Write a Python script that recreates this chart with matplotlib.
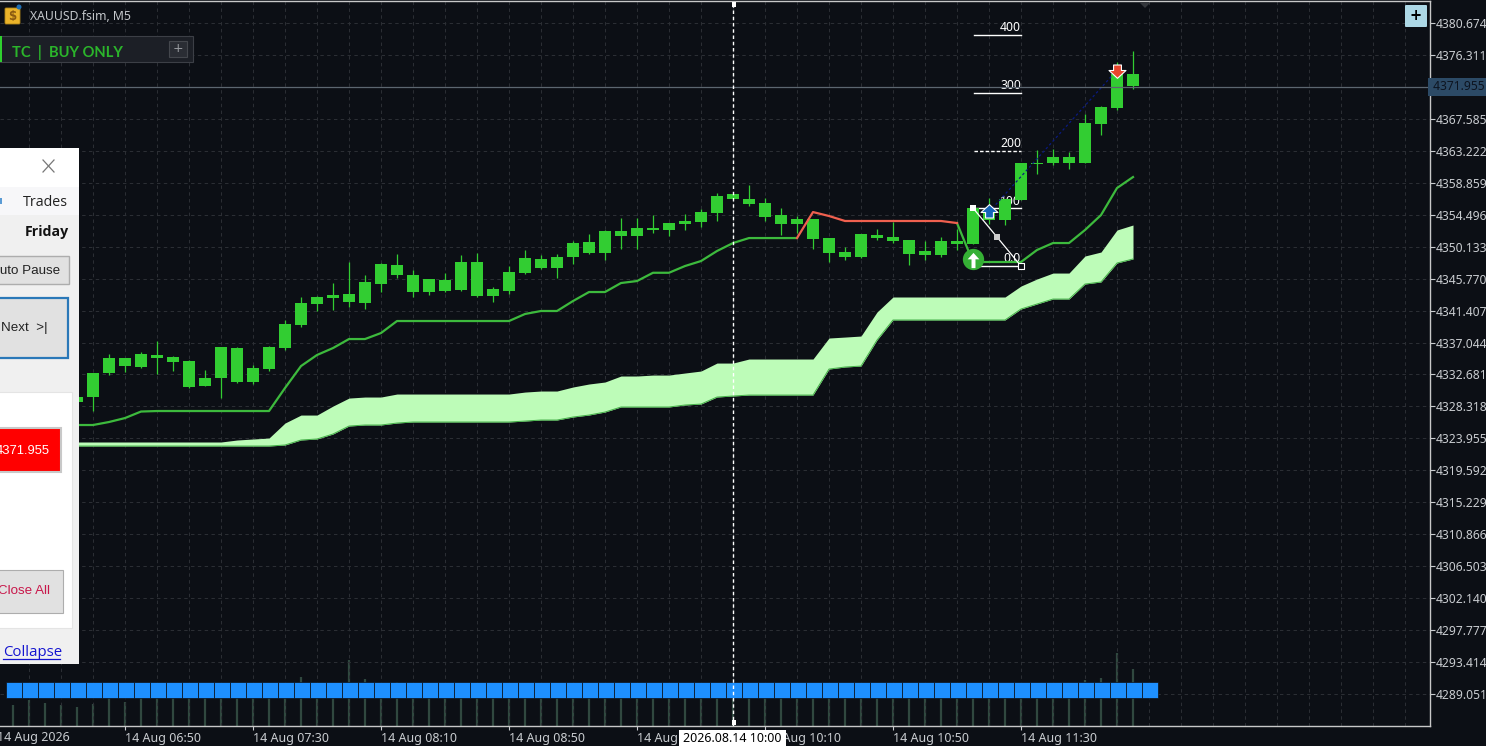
import numpy as np
import matplotlib
matplotlib.use('Agg')
import matplotlib.pyplot as plt
from matplotlib.patches import Rectangle, Circle, FancyBboxPatch, Polygon
from matplotlib.path import Path
from matplotlib.transforms import blended_transform_factory

# bars run every 5 minutes, bar 0 is 06:35
body_top = [4329.60, 4332.88, 4334.93, 4334.93, 4335.47, 4335.34, 4335.06, 4334.52, 4332.20, 4336.43,
            4336.29, 4333.56, 4336.43, 4339.57, 4342.44, 4343.26, 4343.53, 4343.67, 4345.31, 4347.76,
            4347.63, 4346.26, 4345.72, 4345.58, 4348.04, 4348.04, 4344.35, 4346.67, 4348.58, 4348.45,
            4348.72, 4350.63, 4350.77, 4352.27, 4352.27, 4352.68, 4352.68, 4353.36, 4353.64, 4354.86,
            4357.05, 4357.32, 4356.64, 4356.09, 4354.45, 4353.91, 4353.91, 4351.31, 4349.40, 4351.86,
            4351.72, 4351.45, 4351.04, 4349.54, 4350.90, 4350.90, 4355.41, 4355.14, 4356.64, 4361.56,
            4361.56, 4362.38, 4362.38, 4367.02, 4369.20, 4373.71, 4373.71]
body_bottom = [4328.92, 4329.60, 4332.88, 4333.83, 4333.70, 4334.93, 4334.38, 4330.97, 4331.10, 4332.20,
               4331.65, 4331.65, 4333.42, 4336.29, 4339.43, 4342.30, 4343.12, 4342.57, 4342.44, 4345.03,
               4346.26, 4343.94, 4343.94, 4344.08, 4344.21, 4343.39, 4343.39, 4344.08, 4346.53, 4347.22,
               4347.22, 4348.72, 4349.27, 4349.27, 4351.59, 4351.59, 4352.41, 4352.41, 4353.23, 4353.50,
               4354.73, 4356.64, 4355.96, 4354.18, 4353.23, 4353.23, 4351.18, 4349.27, 4348.72, 4348.72,
               4351.31, 4350.90, 4349.13, 4348.99, 4348.99, 4350.49, 4350.49, 4353.77, 4353.77, 4356.50,
               4361.42, 4361.56, 4361.56, 4361.56, 4366.88, 4369.07, 4372.07]
highs = [4329.60, 4332.88, 4335.47, 4334.93, 4335.75, 4337.25, 4335.20, 4334.65, 4333.29, 4336.43,
         4336.43, 4333.97, 4336.57, 4340.12, 4343.26, 4343.39, 4345.17, 4348.04, 4346.26, 4347.90,
         4349.13, 4346.94, 4345.72, 4346.53, 4348.99, 4349.27, 4344.62, 4347.49, 4349.68, 4348.99,
         4349.13, 4350.90, 4351.86, 4352.41, 4354.05, 4354.05, 4354.45, 4353.36, 4354.59, 4355.27,
         4357.46, 4357.32, 4358.55, 4356.78, 4355.41, 4354.32, 4353.91, 4351.31, 4350.09, 4351.86,
         4352.54, 4353.50, 4351.04, 4350.90, 4351.45, 4352.54, 4355.68, 4356.78, 4356.64, 4361.56,
         4363.33, 4363.47, 4363.06, 4368.25, 4369.34, 4375.35, 4376.85]
lows = [4328.92, 4327.69, 4332.60, 4333.01, 4333.56, 4332.74, 4333.15, 4330.83, 4331.10, 4329.46,
        4331.51, 4331.38, 4333.15, 4336.02, 4339.16, 4341.35, 4341.48, 4341.89, 4341.62, 4343.94,
        4345.85, 4343.26, 4343.53, 4343.94, 4344.08, 4343.26, 4342.57, 4343.67, 4346.40, 4347.08,
        4345.85, 4347.76, 4349.13, 4348.31, 4349.81, 4349.81, 4352.00, 4351.59, 4352.41, 4352.82,
        4353.64, 4356.64, 4355.68, 4353.64, 4351.72, 4352.00, 4349.81, 4348.04, 4348.31, 4348.58,
        4351.04, 4350.63, 4347.63, 4348.31, 4348.72, 4349.68, 4350.49, 4353.23, 4353.09, 4356.50,
        4360.05, 4361.28, 4360.74, 4361.56, 4365.38, 4368.79, 4371.66]

trail_up = [4325.78, 4325.78, 4326.19, 4326.73, 4327.62, 4327.69, 4327.69, 4327.69, 4327.69, 4327.69,
            4327.69, 4327.69, 4327.69, 4330.83, 4333.83, 4335.34, 4336.29, 4337.52, 4337.52, 4338.34,
            4339.98, 4339.98, 4339.98, 4339.98, 4339.98, 4339.98, 4339.98, 4339.98, 4340.94, 4341.35,
            4341.35, 4342.71, 4343.94, 4343.94, 4345.17, 4345.44, 4346.57, 4346.57, 4347.49, 4348.17,
            4349.54, 4350.63, 4351.31, 4351.31, 4351.31, 4351.31, np.nan, np.nan, np.nan, np.nan,
            np.nan, np.nan, np.nan, np.nan, np.nan, 4353.36, 4348.04, 4348.04, 4348.04, 4348.04,
            4349.68, 4350.63, 4350.63, 4352.41, 4354.45, 4358.14, 4359.64]
trail_down = [np.nan] * 45 + [4351.31, 4354.86, 4354.32, 4353.64, 4353.64, 4353.64, 4353.64, 4353.64,
                              4353.64, 4353.64, 4353.36] + [np.nan] * 11

cloud_top = [4323.46, 4323.46, 4323.46, 4323.46, 4323.46, 4323.46, 4323.46, 4323.46, 4323.46, 4323.46,
             4323.73, 4323.87, 4324.00, 4326.05, 4327.14, 4327.14, 4328.37, 4329.46, 4329.60, 4329.60,
             4330.01, 4330.01, 4330.01, 4330.01, 4330.01, 4330.01, 4330.01, 4330.01, 4330.28, 4330.42,
             4330.42, 4330.97, 4331.38, 4331.65, 4332.47, 4332.47, 4332.60, 4332.60, 4332.88, 4333.15,
             4334.24, 4334.24, 4334.79, 4334.79, 4334.79, 4334.79, 4334.79, 4337.66, 4337.79, 4337.93,
             4341.21, 4343.26, 4343.26, 4343.26, 4343.26, 4343.26, 4343.26, 4343.26, 4343.26, 4344.76,
             4345.72, 4346.53, 4346.53, 4348.86, 4349.40, 4352.41, 4353.09]
cloud_bottom = [4322.91, 4322.91, 4322.91, 4322.91, 4322.91, 4322.91, 4322.91, 4322.91, 4322.91, 4322.91,
                4322.91, 4322.91, 4322.91, 4323.05, 4323.73, 4323.87, 4324.55, 4325.64, 4325.78, 4325.78,
                4326.05, 4326.19, 4326.19, 4326.19, 4326.19, 4326.19, 4326.19, 4326.19, 4326.32, 4326.46,
                4326.46, 4326.87, 4327.14, 4327.55, 4328.24, 4328.24, 4328.24, 4328.24, 4328.51, 4328.64,
                4329.60, 4329.74, 4329.87, 4329.87, 4329.87, 4329.87, 4329.87, 4333.42, 4333.70, 4333.83,
                4337.38, 4340.12, 4340.12, 4340.12, 4340.12, 4340.12, 4340.12, 4340.12, 4340.12, 4341.62,
                4342.30, 4342.98, 4342.98, 4345.03, 4345.31, 4347.90, 4348.45]

# tick volume, first value is bar -4 (hidden behind the panel further up)
volumes = [42, 52, 46, 42, 38, 44, 58, 48, 60, 62, 64, 60, 66, 58, 70, 62, 66, 72, 98, 74, 78, 132, 94, 80, 88,
           70, 66, 62, 64, 72, 60, 58, 66, 62, 70, 64, 60, 68, 62, 66, 58, 62, 70, 66, 64, 60, 72, 66, 62, 68,
           74, 70, 66, 62, 60, 64, 70, 62, 66, 72, 76, 70, 64, 68, 72, 70, 78, 92, 96, 146, 114]

price_ticks = [4380.674, 4376.311, 4371.948, 4367.585, 4363.222, 4358.859, 4354.496, 4350.133, 4345.770,
               4341.407, 4337.044, 4332.681, 4328.318, 4323.955, 4319.592, 4315.229, 4310.866, 4306.503,
               4302.140, 4297.777, 4293.414, 4289.051]
time_ticks = [3, 11, 19, 27, 35, 43, 51, 59]
time_labels = ['14 Aug 06:50', '14 Aug 07:30', '14 Aug 08:10', '14 Aug 08:50',
               '14 Aug 09:30', '14 Aug 10:10', '14 Aug 10:50', '14 Aug 11:30']

fib_levels = [0, 100, 200, 300, 400]
fib_base = 4347.49
fib_step = 0.07886
last_price = 4371.955
signal_level = 4289.66
cursor_bar = 41

BG = '#0c0f15'
GRID = '#2d3035'
TEXT = '#c9ccd0'
GREEN = '#32cd32'
CHART_FONT = 'Noto Sans'
ui_font = 'Liberation Sans'

fig = plt.figure(figsize=(14.86, 7.46), dpi=100, facecolor=BG)
ax = fig.add_axes([0, 20 / 746, 1430 / 1486, 725 / 746], facecolor=BG)
ax.set_xlim(-77 / 16, (1430 - 77) / 16)
ax.set_ylim(4284.68, 4383.68)

bars = np.arange(len(body_top))
top = np.array(body_top)
bottom = np.array(body_bottom)

# grid
for b in np.arange(-3, 85, 2):
    ax.axvline(b, color=GRID, lw=0.7, ls=(0, (3.5, 3.5)), zorder=1)
for p in price_ticks:
    ax.axhline(p, color=GRID, lw=0.7, ls=(0, (3.5, 3.5)), zorder=1)

# volume bars on their own scale
ax_vol = ax.twinx()
ax_vol.set_ylim(0, 1450)
ax_vol.axis('off')
ax_vol.set_zorder(ax.get_zorder() - 1)
ax.patch.set_visible(False)
ax_vol.vlines(np.arange(-4, len(volumes) - 4), 0, volumes, color='#30483f', lw=1.6)

ax.fill_between(bars, cloud_bottom, cloud_top, color='#bdfcb8', lw=0, zorder=2)
ax.plot(bars, cloud_bottom, color='#43b047', lw=0.7, zorder=2)

# fibo object sits under the candles
for lvl in fib_levels:
    price = fib_base + lvl * fib_step
    ls = (0, (2.5, 1.5)) if lvl == 200 else '-'
    ax.plot([56.05, 59], [price, price], color='white', lw=1.0, ls=ls, zorder=3)
    label = '0.0' if lvl == 0 else str(lvl)
    ax.annotate(label, (59, price), xytext=(0, 0.5), textcoords='offset points', ha='right', va='bottom',
                color='white', fontsize=8.8, family=CHART_FONT, zorder=3)

ax.vlines(bars, lows, highs, color=GREEN, lw=0.9, zorder=4)
ax.bar(bars, top - bottom, width=0.69, bottom=bottom, color=GREEN, lw=0, zorder=4)

ax.plot(bars, trail_up, color='#3dba3d', lw=1.6, zorder=5)
ax.plot(bars, trail_down, color='#f0604f', lw=1.6, zorder=5)

# order line and fibo anchor
ax.plot([57, 65], [4354.86, 4374.24], color='#0a1a80', lw=0.9, ls=(0, (2, 2)), zorder=5)
ax.plot([56, 57.5, 59], [4355.41, 4351.45, 4347.49], color='white', lw=0.9, zorder=6)
ax.scatter([57.5], [4351.45], marker='s', s=14, color='#cccccc', zorder=6, lw=0)
ax.scatter([59], [4347.49], marker='s', s=14, facecolor='#0c0f15', edgecolor='white', lw=0.8, zorder=6)
ax.scatter([56], [4355.41], marker='s', s=14, color='white', lw=0, zorder=6)

up_arrow = Path([(-0.65, 0), (0, 0.6), (0.65, 0), (0.3, 0), (0.3, -0.42), (-0.3, -0.42), (-0.3, 0), (-0.65, 0)], closed=True)
down_arrow = Path([(-0.65, 0), (0, -0.6), (0.65, 0), (0.3, 0), (0.3, 0.42), (-0.3, 0.42), (-0.3, 0), (-0.65, 0)], closed=True)
tall_arrow = Path([(-0.5, 0.1), (0, 0.65), (0.5, 0.1), (0.17, 0.1), (0.17, -0.65), (-0.17, -0.65), (-0.17, 0.1), (-0.5, 0.1)], closed=True)
ax.scatter([57], [4354.86], marker=up_arrow, s=150, facecolor='#1565b8', edgecolor='white', lw=0.8, zorder=7)
ax.scatter([65], [4374.24], marker=down_arrow, s=150, facecolor='#e8452c', edgecolor='white', lw=0.8, zorder=7)
ax.scatter([56], [4348.45], marker='o', s=235, color='#35b035', lw=0, zorder=7)
ax.scatter([56], [4348.25], marker=tall_arrow, s=120, color='white', lw=0, zorder=8)

# signal strip along the bottom
signal_bars = np.arange(-4, 68) + 0.05
ax.scatter(signal_bars, np.full(len(signal_bars), signal_level), marker='s', s=118, color='#1e90ff',
           edgecolor=BG, lw=0.5, zorder=6)

ax.axhline(last_price, color='#5c6670', lw=0.9, zorder=6)
ax.axvline(cursor_bar, color='white', lw=1.0, ls=(0, (2.5, 2)), zorder=6)

ax.spines['left'].set_visible(False)
for s in ['top', 'right', 'bottom']:
    ax.spines[s].set_color('#c8c8c8')
    ax.spines[s].set_linewidth(1.0)

ax.yaxis.tick_right()
ax.set_yticks(price_ticks)
ax.set_yticklabels(['' if p == 4371.948 else f'{p:.3f}' for p in price_ticks], family=CHART_FONT)
ax.tick_params(axis='y', colors=TEXT, length=3.5, width=0.8, pad=1, labelsize=8.7)
ax.set_xticks(time_ticks)
ax.set_xticklabels(time_labels, ha='left', family=CHART_FONT)
ax.tick_params(axis='x', colors=TEXT, length=3, width=0.8, pad=1.5, labelsize=9)
ax_trans = blended_transform_factory(ax.transData, ax.transAxes)
ax.text(-5, -0.0065, '14 Aug 2026', transform=ax_trans, color=TEXT, fontsize=9, family=CHART_FONT,
        ha='left', va='top', clip_on=False)

ax.text(1, last_price, ' 4371.955', transform=blended_transform_factory(ax.transAxes, ax.transData), color='#0d1420',
        fontsize=8.7, family=CHART_FONT, va='center', ha='left', clip_on=False, zorder=9,
        bbox=dict(boxstyle='square,pad=0.2', fc='#2c4a66', ec='none'))

# everything drawn on top of the chart, in screen pixels
ui = fig.add_axes([0, 0, 1, 1], facecolor='none')
ui.set_xlim(0, 1486)
ui.set_ylim(746, 0)
ui.axis('off')
ui.set_zorder(10)


def box(x0, y0, x1, y1, fc, ec='none', lw=0.0):
    ui.add_patch(Rectangle((x0, y0), x1 - x0, y1 - y0, facecolor=fc, edgecolor=ec, linewidth=lw))


# left tester panel
box(0, 148, 79, 664, '#f0f0f0')
box(0, 148, 79, 187, 'white')
box(0, 187, 79, 215, '#f7f7f9')
ui.plot([43, 54], [160, 172], color='#777777', lw=0.9)
ui.plot([43, 54], [172, 160], color='#777777', lw=0.9)
box(0, 198, 2, 204, '#5a9bd4')
ui.text(67.5, 202.5, 'Trades', fontsize=10.3, family='Open Sans', color='#222222', ha='right', va='center')
ui.text(69, 232, 'Friday', fontsize=10.2, family='Open Sans', weight='bold', color='#111111', ha='right', va='center')
box(-2, 256, 69, 284, '#e1e1e1', '#adadad', 1.0)
ui.text(60, 271, 'Auto Pause', fontsize=9.6, family=ui_font, color='#222222', ha='right', va='center', clip_on=True)
box(-2, 298, 68, 358, '#e1e1e1', '#2a78b8', 1.6)
ui.text(48, 328.5, 'Next  >|', fontsize=9.6, family=ui_font, color='#222222', ha='right', va='center')
box(-2, 392, 72, 628, 'white', '#e4e4e4', 0.8)
box(-2, 428, 61, 472, '#ff0000', '#c8c8c8', 1.5)
ui.text(50, 451, '4371.955', fontsize=9.4, family=ui_font, color='white', ha='right', va='center')
box(-2, 570, 63, 613, '#e1e1e1', '#adadad', 0.8)
ui.text(50, 591, 'Close All', fontsize=9.6, family=ui_font, color='#c8174a', ha='right', va='center')
ui.text(3, 652.5, 'Collapse', fontsize=10.8, family='Open Sans', color='#1515d0', ha='left', va='center')
ui.plot([3, 60], [659, 659], color='#1515d0', lw=0.9)

# chart header
ui.add_patch(FancyBboxPatch((6, 9), 13, 14, boxstyle='round,pad=1', fc='#eab32a', ec='#b08418', lw=0.6))
ui.text(12.5, 16.5, '$', color='#8a5a10', fontsize=8.5, weight='bold', ha='center', va='center')
ui.add_patch(Circle((19, 7), 2.5, fc='#1f6fb5', ec='none'))
ui.text(30, 16, 'XAUUSD.fsim, M5', color='#c4c7cb', fontsize=8.8, family=CHART_FONT, ha='left', va='center')

box(0, 36, 193, 62, '#1c1f26', '#3c3f46', 0.8)
box(0, 36, 2, 62, '#2fd02f')
ui.text(12, 53, 'TC  |  BUY ONLY', color='#2bb52b', fontsize=10.6, family='Lato', weight='bold', ha='left', va='center')
box(169, 41, 187, 57, '#2a2d34', '#44474d', 0.8)
ui.text(178, 48.5, '+', color='#9a9da2', fontsize=9, ha='center', va='center')

# zoom button and small markers of the chart frame
ui.add_patch(FancyBboxPatch((1406, 6), 20, 20, boxstyle='round,pad=1', fc='#add8e6', ec='none'))
ui.text(1416, 15.5, '+', color='black', fontsize=10.5, weight='bold', ha='center', va='center')
ui.add_patch(Polygon([(1140, 3), (1150, 3), (1145, 8)], fc='#33363b', ec='none'))
box(732, 2, 736, 7, 'white')
box(732, 720, 736, 725, 'white')

# time label under the cursor
box(679, 730, 786, 746, 'white')
ui.text(732.5, 738, '2026.08.14 10:00', color='black', fontsize=9, family=CHART_FONT, ha='center', va='center')

fig.savefig('out.png', dpi=100, facecolor=BG)
